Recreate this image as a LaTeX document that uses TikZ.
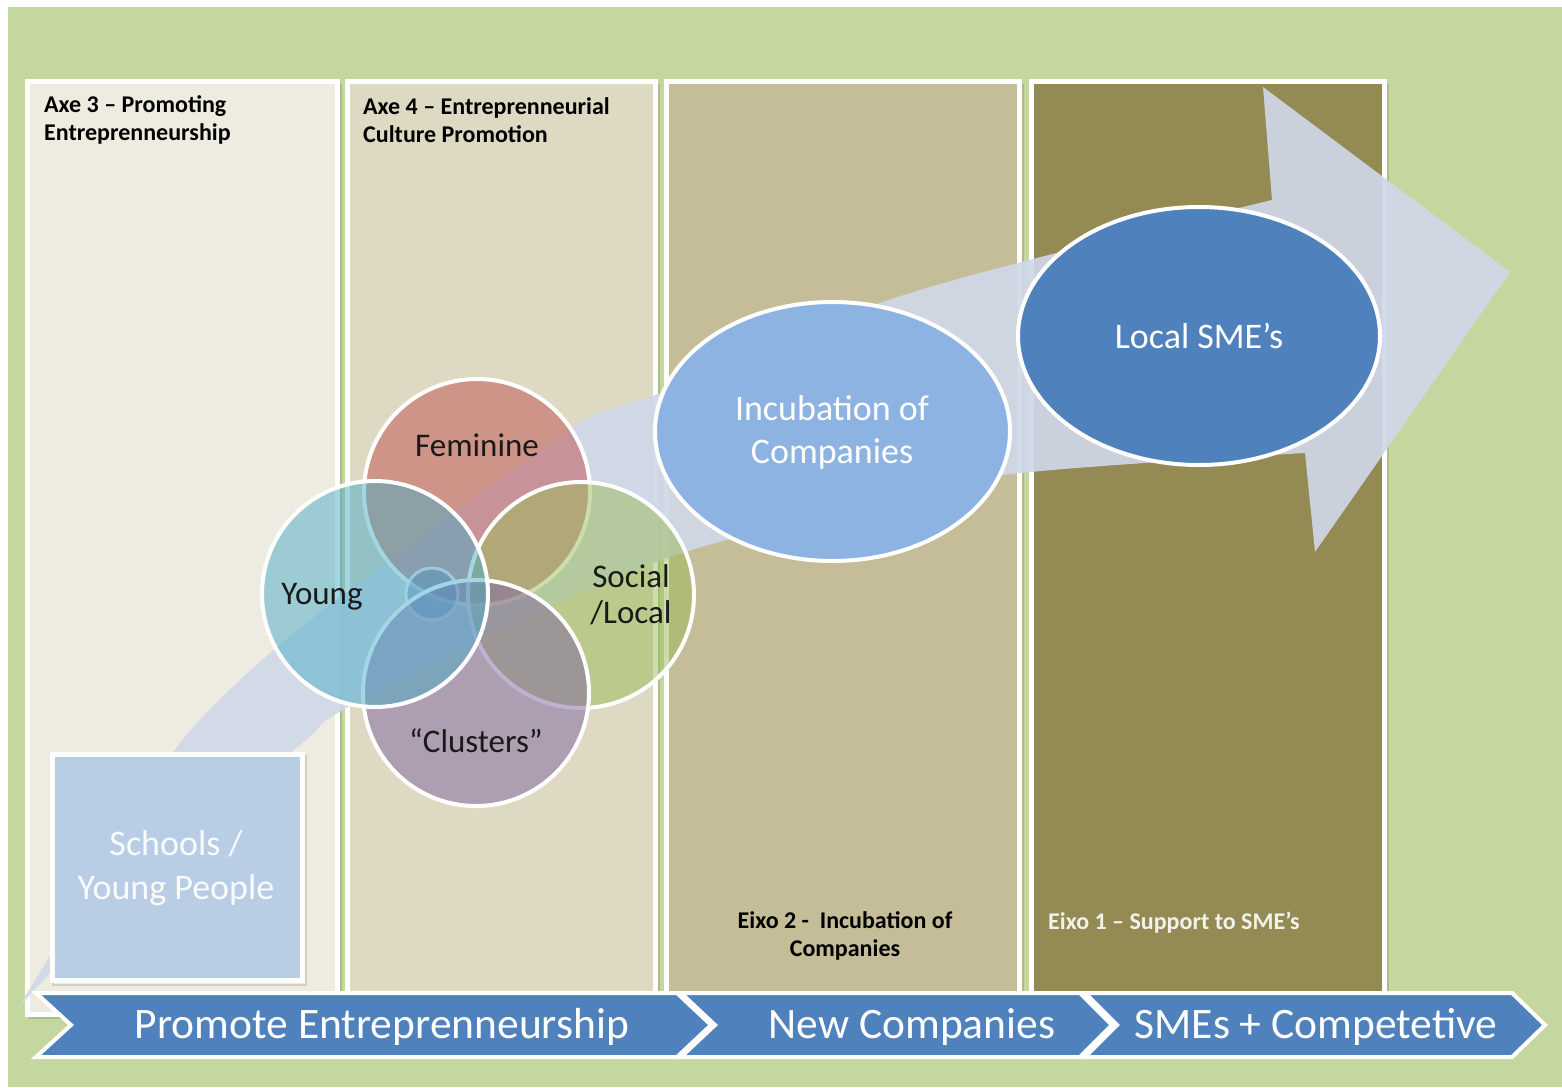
\documentclass[tikz,border=0pt]{standalone}
\usepackage{fontspec}
\setmainfont{Carlito}
\usetikzlibrary{shapes.geometric}
\definecolor{bggreen}{HTML}{C4D79E}
\definecolor{colA}{HTML}{EEECE1}
\definecolor{colB}{HTML}{DDD9C3}
\definecolor{colC}{HTML}{C4BD97}
\definecolor{colD}{HTML}{948A54}
\definecolor{arrowc}{HTML}{D0D8E8}
\definecolor{incub}{HTML}{8DB3E2}
\definecolor{smeblue}{HTML}{4F81BD}
\definecolor{schoolc}{HTML}{B9CDE5}
\definecolor{femc}{HTML}{C0504D}
\definecolor{youngc}{HTML}{4BACC6}
\definecolor{socc}{HTML}{9BBB59}
\definecolor{clusc}{HTML}{8064A2}
\definecolor{eixoone}{HTML}{F2F2EC}
\newcommand\myfs[2]{\fontsize{#1}{#2}\selectfont}
\begin{document}
\begin{tikzpicture}[x=1pt,y=-1pt,
  colbox/.style={draw=white,line width=5pt},
  venn/.style={circle,draw=white,line width=4pt,minimum size=226pt,inner sep=0pt,fill opacity=0.5,draw opacity=1},
  bigell/.style={ellipse,draw=white,line width=4pt,inner sep=0pt},
  chev/.style={fill=smeblue,draw=white,line width=4pt,line join=miter},
  headtxt/.style={font=\myfs{24}{28.5}\bfseries,inner sep=0pt},
  venntxt/.style={font=\myfs{33}{36},text=black!90,inner sep=0pt},
  elltxt/.style={font=\myfs{36}{43},text=white,inner sep=0pt,align=center},
  chevtxt/.style={font=\myfs{43.5}{48},text=white,inner sep=0pt}
]
\useasboundingbox (0,0) rectangle (1562,1087);
% background
\fill[white] (0,0) rectangle (1562,1087);
\fill[bggreen] (8,7) rectangle (1562,1087);

% columns (with a faint shadow)
\foreach \xa/\xb in {27.5/337.5, 347.5/655.5, 666.5/1019.5, 1031.5/1384.5}
  \draw[black,opacity=0.12,line width=2pt] (\xa+2,81.5+3) rectangle (\xb+3,1014.5+3);
\filldraw[colbox,fill=colA] (27.5,81.5) rectangle (337.5,1014.5);
\filldraw[colbox,fill=colB] (347.5,81.5) rectangle (655.5,1014.5);
\filldraw[colbox,fill=colC] (666.5,81.5) rectangle (1019.5,1014.5);
\filldraw[colbox,fill=colD] (1031.5,81.5) rectangle (1384.5,1014.5);

% big arrow
\fill[arrowc,opacity=0.92]
  plot[smooth,tension=0.6] coordinates {(18,1008) (150,870) (300,745) (343,710) (500,630) (670,557) (850,510) (1003,475) (1305,453)}
  -- (1315,552) -- (1510,272) -- (1263,87) -- (1272,200)
  -- plot[smooth,tension=0.5] coordinates {(1272,200) (1060,252) (880,303) (660,393) (580,423) (420,538) (277,647) (177,747) (90,890) (18,1008)}
  -- cycle;

% column titles
\node[headtxt,anchor=west,align=left] (axe3) at (44,120) {Axe 3 – Promoting\\Entreprenneurship};
\node[headtxt,anchor=west,align=left] (axe4) at (363,120) {Axe 4 – Entreprenneurial\\Culture Promotion};
\node[headtxt,align=center] (eixo2) at (845,936) {Eixo 2 -\ \ Incubation of\\Companies};
\node[headtxt,anchor=base west,text=eixoone] (eixo1) at (1048,929) {Eixo 1 – Support to SME’s};

% schools box
\draw[black,opacity=0.12,line width=2pt] (53,756) rectangle (306,985);
\node[draw=white,line width=5pt,fill=schoolc,minimum width=250pt,minimum height=226pt,inner sep=0pt] (school) at (177.5,867.5) {};
\node[elltxt,font=\myfs{36}{44},text=white!92!schoolc] (schooltxt) at (176,868) {Schools /\\Young People};

% ellipses
\node[bigell,fill=incub,minimum width=355pt,minimum height=259pt] (incub) at (832.5,431.5) {};
\node[elltxt] (incubtxt) at (832,432) {Incubation of\\Companies};
\node[bigell,fill=smeblue,minimum width=362pt,minimum height=258pt] (sme) at (1199,336) {};
\node[elltxt,anchor=base] (smetxt) at (1199,348) {Local SME’s};

% venn circles
\node[venn,fill=femc] (fem) at (477,492) {};
\node[circle,draw=white,line width=3pt,fill=smeblue,fill opacity=0.45,draw opacity=0.8,minimum size=52pt,inner sep=0pt] (core) at (432,594) {};
\node[venn,fill=socc] (soc) at (581,595) {};
\node[venn,fill=clusc] (clu) at (476,693) {};
\node[venn,fill=youngc] (yng) at (375,594) {};
\node[venntxt,anchor=base] (femtxt) at (477,456) {Feminine};
\node[venntxt,anchor=base] (yngtxt) at (322,604) {Young};
\node[venntxt,align=center] (soctxt) at (631,595) {Social\\/Local};
\node[venntxt,anchor=base] (clutxt) at (476,752) {“Clusters”};

% chevron band
\filldraw[chev] (36,993) -- (677,993) -- (711,1025) -- (677,1057) -- (36,1057) -- (71,1025) -- cycle;
\filldraw[chev] (681,993) -- (1080,993) -- (1112,1025) -- (1080,1057) -- (681,1057) -- (715,1025) -- cycle;
\filldraw[chev] (1085,993) -- (1512,993) -- (1545,1025) -- (1512,1057) -- (1085,1057) -- (1117,1025) -- cycle;
\node[chevtxt,anchor=base] (c1) at (382,1038) {Promote Entreprenneurship};
\node[chevtxt,anchor=base] (c2) at (912,1038) {New Companies};
\node[chevtxt,anchor=base] (c3) at (1316,1038) {SMEs + Competetive};
\end{tikzpicture}
\end{document}
